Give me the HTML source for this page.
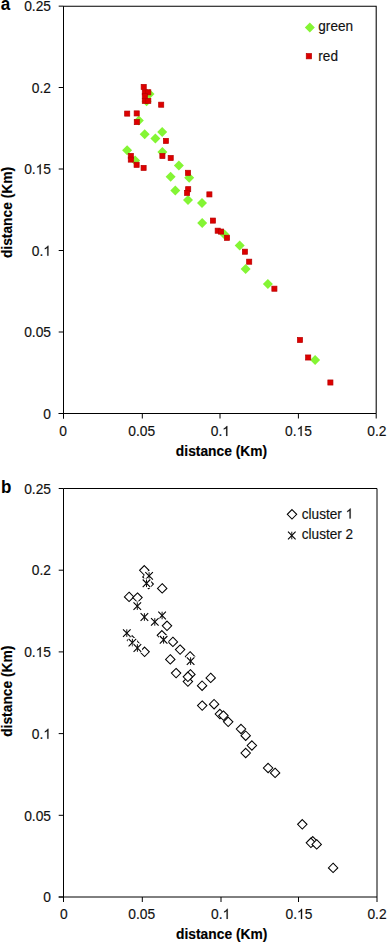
<!DOCTYPE html>
<html><head><meta charset="utf-8"><style>
html,body{margin:0;padding:0;background:#fff;}
svg{display:block;}
.t{font-family:"Liberation Sans", sans-serif;font-size:13.8px;fill:#111;stroke:#111;stroke-width:0.15px;}
.lg{font-family:"Liberation Sans", sans-serif;font-size:13.6px;fill:#111;stroke:#111;stroke-width:0.15px;}
.ax{font-family:"Liberation Sans", sans-serif;font-size:13.8px;font-weight:bold;fill:#000;stroke:#000;stroke-width:0.15px;}
.p{font-family:"Liberation Sans", sans-serif;font-size:17px;font-weight:bold;fill:#000;}
</style></head><body>
<svg width="388" height="943" viewBox="0 0 388 943">
<rect width="388" height="943" fill="#fff"/>
<path d="M63.5 6.15H376.2 V413.5" fill="none" stroke="#000" stroke-width="1.05"/>
<path d="M63.5 6.15V418.5" stroke="#000" stroke-width="1"/>
<path d="M58.7 413.5H376.2" stroke="#000" stroke-width="1"/>
<path d="M58.7 6.15H63.5" stroke="#000" stroke-width="1"/>
<path d="M58.7 87.5H63.5" stroke="#000" stroke-width="1"/>
<path d="M58.7 169H63.5" stroke="#000" stroke-width="1"/>
<path d="M58.7 250.5H63.5" stroke="#000" stroke-width="1"/>
<path d="M58.7 332H63.5" stroke="#000" stroke-width="1"/>
<path d="M58.7 413.5H63.5" stroke="#000" stroke-width="1"/>
<path d="M63.5 413.5V418.5" stroke="#000" stroke-width="1"/>
<path d="M142.3 413.5V418.5" stroke="#000" stroke-width="1"/>
<path d="M220 413.5V418.5" stroke="#000" stroke-width="1"/>
<path d="M298.4 413.5V418.5" stroke="#000" stroke-width="1"/>
<path d="M376.2 413.5V418.5" stroke="#000" stroke-width="1"/>
<text transform="translate(51 11.35) scale(1 1.06)" text-anchor="end" class="t">0.25</text>
<text transform="translate(51 92.7) scale(1 1.06)" text-anchor="end" class="t">0.2</text>
<g transform="translate(51 174.2) scale(1 1.06)"><text text-anchor="end" class="t">0. 5</text><path transform="translate(-15.35 0) scale(0.006738 -0.006738)" d="M763 0L583 0L583 1102Q518 1043 412 983Q307 924 223 894L223 1061Q375 1129 489 1226Q603 1323 650 1409L763 1409Z" fill="#111" stroke="#111" stroke-width="22.26"/></g>
<g transform="translate(51 255.7) scale(1 1.06)"><text text-anchor="end" class="t">0. </text><path transform="translate(-7.67 0) scale(0.006738 -0.006738)" d="M763 0L583 0L583 1102Q518 1043 412 983Q307 924 223 894L223 1061Q375 1129 489 1226Q603 1323 650 1409L763 1409Z" fill="#111" stroke="#111" stroke-width="22.26"/></g>
<text transform="translate(51 337.2) scale(1 1.06)" text-anchor="end" class="t">0.05</text>
<text transform="translate(51 418.7) scale(1 1.06)" text-anchor="end" class="t">0</text>
<text transform="translate(63.2 436) scale(1 1.06)" text-anchor="middle" class="t">0</text>
<text transform="translate(141.8 436) scale(1 1.06)" text-anchor="middle" class="t">0.05</text>
<g transform="translate(220.3 436) scale(1 1.06)"><text text-anchor="middle" class="t">0. </text><path transform="translate(1.92 0) scale(0.006738 -0.006738)" d="M763 0L583 0L583 1102Q518 1043 412 983Q307 924 223 894L223 1061Q375 1129 489 1226Q603 1323 650 1409L763 1409Z" fill="#111" stroke="#111" stroke-width="22.26"/></g>
<g transform="translate(298.5 436) scale(1 1.06)"><text text-anchor="middle" class="t">0. 5</text><path transform="translate(-1.92 0) scale(0.006738 -0.006738)" d="M763 0L583 0L583 1102Q518 1043 412 983Q307 924 223 894L223 1061Q375 1129 489 1226Q603 1323 650 1409L763 1409Z" fill="#111" stroke="#111" stroke-width="22.26"/></g>
<text transform="translate(376.9 436) scale(1 1.06)" text-anchor="middle" class="t">0.2</text>
<text transform="translate(0.7 10.1) scale(1 1.03)" class="p">a</text>
<text transform="translate(221.5 455.9) scale(1 1.06)" text-anchor="middle" class="ax">distance (Km)</text>
<text transform="translate(12.2 212.5) rotate(-90)" text-anchor="middle" class="ax">distance (Km)</text>
<path d="M149.5 88.9L154.5 93.9L149.5 98.9L144.5 93.9Z" fill="#84f534"/>
<path d="M146.6 96.2L151.6 101.2L146.6 106.2L141.6 101.2Z" fill="#84f534"/>
<path d="M138.8 115.4L143.8 120.4L138.8 125.4L133.8 120.4Z" fill="#84f534"/>
<path d="M144.7 129.3L149.7 134.3L144.7 139.3L139.7 134.3Z" fill="#84f534"/>
<path d="M155.4 133.5L160.4 138.5L155.4 143.5L150.4 138.5Z" fill="#84f534"/>
<path d="M162.2 126.9L167.2 131.9L162.2 136.9L157.2 131.9Z" fill="#84f534"/>
<path d="M127.1 145.2L132.1 150.2L127.1 155.2L122.1 150.2Z" fill="#84f534"/>
<path d="M135.1 155.5L140.1 160.5L135.1 165.5L130.1 160.5Z" fill="#84f534"/>
<path d="M162.4 146.9L167.4 151.9L162.4 156.9L157.4 151.9Z" fill="#84f534"/>
<path d="M178.9 160.5L183.9 165.5L178.9 170.5L173.9 165.5Z" fill="#84f534"/>
<path d="M170.6 171.7L175.6 176.7L170.6 181.7L165.6 176.7Z" fill="#84f534"/>
<path d="M189.2 172.7L194.2 177.7L189.2 182.7L184.2 177.7Z" fill="#84f534"/>
<path d="M175.3 185.4L180.3 190.4L175.3 195.4L170.3 190.4Z" fill="#84f534"/>
<path d="M188 195L193 200L188 205L183 200Z" fill="#84f534"/>
<path d="M202 197.9L207 202.9L202 207.9L197 202.9Z" fill="#84f534"/>
<path d="M202.2 217.9L207.2 222.9L202.2 227.9L197.2 222.9Z" fill="#84f534"/>
<path d="M224.5 229.4L229.5 234.4L224.5 239.4L219.5 234.4Z" fill="#84f534"/>
<path d="M239.7 240.4L244.7 245.4L239.7 250.4L234.7 245.4Z" fill="#84f534"/>
<path d="M245.6 264L250.6 269L245.6 274L240.6 269Z" fill="#84f534"/>
<path d="M267.9 279.1L272.9 284.1L267.9 289.1L262.9 284.1Z" fill="#84f534"/>
<path d="M315.1 354.9L320.1 359.9L315.1 364.9L310.1 359.9Z" fill="#84f534"/>
<rect x="141.15" y="84.35" width="5.1" height="5.1" fill="#dd0000" stroke="#b80000" stroke-width="0.7"/>
<rect x="142.25" y="89.75" width="5.1" height="5.1" fill="#dd0000" stroke="#b80000" stroke-width="0.7"/>
<rect x="145.75" y="89.75" width="5.1" height="5.1" fill="#dd0000" stroke="#b80000" stroke-width="0.7"/>
<rect x="142.25" y="93.45" width="5.1" height="5.1" fill="#dd0000" stroke="#b80000" stroke-width="0.7"/>
<rect x="142.25" y="98.35" width="5.1" height="5.1" fill="#dd0000" stroke="#b80000" stroke-width="0.7"/>
<rect x="145.75" y="98.35" width="5.1" height="5.1" fill="#dd0000" stroke="#b80000" stroke-width="0.7"/>
<rect x="158.65" y="102.15" width="5.1" height="5.1" fill="#dd0000" stroke="#b80000" stroke-width="0.7"/>
<rect x="124.65" y="111.05" width="5.1" height="5.1" fill="#dd0000" stroke="#b80000" stroke-width="0.7"/>
<rect x="134.15" y="110.85" width="5.1" height="5.1" fill="#dd0000" stroke="#b80000" stroke-width="0.7"/>
<rect x="134.25" y="119.55" width="5.1" height="5.1" fill="#dd0000" stroke="#b80000" stroke-width="0.7"/>
<rect x="163.35" y="138.35" width="5.1" height="5.1" fill="#dd0000" stroke="#b80000" stroke-width="0.7"/>
<rect x="128.25" y="153.35" width="5.1" height="5.1" fill="#dd0000" stroke="#b80000" stroke-width="0.7"/>
<rect x="128.25" y="157.05" width="5.1" height="5.1" fill="#dd0000" stroke="#b80000" stroke-width="0.7"/>
<rect x="134.05" y="162.25" width="5.1" height="5.1" fill="#dd0000" stroke="#b80000" stroke-width="0.7"/>
<rect x="141.05" y="165.35" width="5.1" height="5.1" fill="#dd0000" stroke="#b80000" stroke-width="0.7"/>
<rect x="159.85" y="153.45" width="5.1" height="5.1" fill="#dd0000" stroke="#b80000" stroke-width="0.7"/>
<rect x="168.15" y="155.45" width="5.1" height="5.1" fill="#dd0000" stroke="#b80000" stroke-width="0.7"/>
<rect x="185.45" y="170.25" width="5.1" height="5.1" fill="#dd0000" stroke="#b80000" stroke-width="0.7"/>
<rect x="185.65" y="186.65" width="5.1" height="5.1" fill="#dd0000" stroke="#b80000" stroke-width="0.7"/>
<rect x="184.55" y="190.35" width="5.1" height="5.1" fill="#dd0000" stroke="#b80000" stroke-width="0.7"/>
<rect x="206.85" y="191.85" width="5.1" height="5.1" fill="#dd0000" stroke="#b80000" stroke-width="0.7"/>
<rect x="210.35" y="218.05" width="5.1" height="5.1" fill="#dd0000" stroke="#b80000" stroke-width="0.7"/>
<rect x="215.15" y="228.15" width="5.1" height="5.1" fill="#dd0000" stroke="#b80000" stroke-width="0.7"/>
<rect x="218.55" y="229.05" width="5.1" height="5.1" fill="#dd0000" stroke="#b80000" stroke-width="0.7"/>
<rect x="224.45" y="235.25" width="5.1" height="5.1" fill="#dd0000" stroke="#b80000" stroke-width="0.7"/>
<rect x="242.35" y="249.15" width="5.1" height="5.1" fill="#dd0000" stroke="#b80000" stroke-width="0.7"/>
<rect x="246.65" y="259.15" width="5.1" height="5.1" fill="#dd0000" stroke="#b80000" stroke-width="0.7"/>
<rect x="271.85" y="286.15" width="5.1" height="5.1" fill="#dd0000" stroke="#b80000" stroke-width="0.7"/>
<rect x="297.45" y="337.45" width="5.1" height="5.1" fill="#dd0000" stroke="#b80000" stroke-width="0.7"/>
<rect x="305.65" y="354.95" width="5.1" height="5.1" fill="#dd0000" stroke="#b80000" stroke-width="0.7"/>
<rect x="327.85" y="379.95" width="5.1" height="5.1" fill="#dd0000" stroke="#b80000" stroke-width="0.7"/>
<path d="M309.8 22.4L314.8 27.4L309.8 32.4L304.8 27.4Z" fill="#84f534"/>
<text transform="translate(318.3 31) scale(1 1.06)" class="lg">green</text>
<rect x="306.25" y="53.55" width="5.3" height="5.3" fill="#dd0000" stroke="#b80000" stroke-width="0.7"/>
<text transform="translate(318.3 60.5) scale(1 1.06)" class="lg">red</text>
<path d="M63.5 488.5H377 V897" fill="none" stroke="#000" stroke-width="1"/>
<path d="M63.5 488.5V902" stroke="#000" stroke-width="1"/>
<path d="M58.7 897H377" stroke="#000" stroke-width="1"/>
<path d="M58.7 488.5H63.5" stroke="#000" stroke-width="1"/>
<path d="M58.7 570.2H63.5" stroke="#000" stroke-width="1"/>
<path d="M58.7 651.9H63.5" stroke="#000" stroke-width="1"/>
<path d="M58.7 733.6H63.5" stroke="#000" stroke-width="1"/>
<path d="M58.7 815.3H63.5" stroke="#000" stroke-width="1"/>
<path d="M58.7 897H63.5" stroke="#000" stroke-width="1"/>
<path d="M63.5 897V902" stroke="#000" stroke-width="1"/>
<path d="M142.3 897V902" stroke="#000" stroke-width="1"/>
<path d="M221 897V902" stroke="#000" stroke-width="1"/>
<path d="M298.5 897V902" stroke="#000" stroke-width="1"/>
<path d="M377 897V902" stroke="#000" stroke-width="1"/>
<text transform="translate(51 493.7) scale(1 1.06)" text-anchor="end" class="t">0.25</text>
<text transform="translate(51 575.4) scale(1 1.06)" text-anchor="end" class="t">0.2</text>
<g transform="translate(51 657.1) scale(1 1.06)"><text text-anchor="end" class="t">0. 5</text><path transform="translate(-15.35 0) scale(0.006738 -0.006738)" d="M763 0L583 0L583 1102Q518 1043 412 983Q307 924 223 894L223 1061Q375 1129 489 1226Q603 1323 650 1409L763 1409Z" fill="#111" stroke="#111" stroke-width="22.26"/></g>
<g transform="translate(51 738.8) scale(1 1.06)"><text text-anchor="end" class="t">0. </text><path transform="translate(-7.67 0) scale(0.006738 -0.006738)" d="M763 0L583 0L583 1102Q518 1043 412 983Q307 924 223 894L223 1061Q375 1129 489 1226Q603 1323 650 1409L763 1409Z" fill="#111" stroke="#111" stroke-width="22.26"/></g>
<text transform="translate(51 820.5) scale(1 1.06)" text-anchor="end" class="t">0.05</text>
<text transform="translate(51 902.2) scale(1 1.06)" text-anchor="end" class="t">0</text>
<text transform="translate(63.9 918.9) scale(1 1.06)" text-anchor="middle" class="t">0</text>
<text transform="translate(141.8 918.9) scale(1 1.06)" text-anchor="middle" class="t">0.05</text>
<g transform="translate(220.7 918.9) scale(1 1.06)"><text text-anchor="middle" class="t">0. </text><path transform="translate(1.92 0) scale(0.006738 -0.006738)" d="M763 0L583 0L583 1102Q518 1043 412 983Q307 924 223 894L223 1061Q375 1129 489 1226Q603 1323 650 1409L763 1409Z" fill="#111" stroke="#111" stroke-width="22.26"/></g>
<g transform="translate(298.9 918.9) scale(1 1.06)"><text text-anchor="middle" class="t">0. 5</text><path transform="translate(-1.92 0) scale(0.006738 -0.006738)" d="M763 0L583 0L583 1102Q518 1043 412 983Q307 924 223 894L223 1061Q375 1129 489 1226Q603 1323 650 1409L763 1409Z" fill="#111" stroke="#111" stroke-width="22.26"/></g>
<text transform="translate(377 918.9) scale(1 1.06)" text-anchor="middle" class="t">0.2</text>
<text transform="translate(1 493.4) scale(1 1.04)" class="p">b</text>
<text transform="translate(221.7 938.8) scale(1 1.06)" text-anchor="middle" class="ax">distance (Km)</text>
<text transform="translate(12.2 691.2) rotate(-90)" text-anchor="middle" class="ax">distance (Km)</text>
<path d="M144.3 565.6L149 570.3L144.3 575L139.6 570.3Z" fill="#fff" stroke="#000" stroke-width="1.05"/>
<path d="M147.4 572.2L152.1 576.9L147.4 581.6L142.7 576.9Z" fill="#fff" stroke="#000" stroke-width="1.05"/>
<path d="M148.7 579.4L153.4 584.1L148.7 588.8L144 584.1Z" fill="#fff" stroke="#000" stroke-width="1.05"/>
<path d="M162.2 583.7L166.9 588.4L162.2 593.1L157.5 588.4Z" fill="#fff" stroke="#000" stroke-width="1.05"/>
<path d="M129.1 592.2L133.8 596.9L129.1 601.6L124.4 596.9Z" fill="#fff" stroke="#000" stroke-width="1.05"/>
<path d="M137.5 592.9L142.2 597.6L137.5 602.3L132.8 597.6Z" fill="#fff" stroke="#000" stroke-width="1.05"/>
<path d="M167 621.1L171.7 625.8L167 630.5L162.3 625.8Z" fill="#fff" stroke="#000" stroke-width="1.05"/>
<path d="M161.9 630.6L166.6 635.3L161.9 640L157.2 635.3Z" fill="#fff" stroke="#000" stroke-width="1.05"/>
<path d="M132 635.6L136.7 640.3L132 645L127.3 640.3Z" fill="#fff" stroke="#000" stroke-width="1.05"/>
<path d="M135.7 639.7L140.4 644.4L135.7 649.1L131 644.4Z" fill="#fff" stroke="#000" stroke-width="1.05"/>
<path d="M172.9 637.2L177.6 641.9L172.9 646.6L168.2 641.9Z" fill="#fff" stroke="#000" stroke-width="1.05"/>
<path d="M180.1 644.9L184.8 649.6L180.1 654.3L175.4 649.6Z" fill="#fff" stroke="#000" stroke-width="1.05"/>
<path d="M170.3 654.7L175 659.4L170.3 664.1L165.6 659.4Z" fill="#fff" stroke="#000" stroke-width="1.05"/>
<path d="M190.1 651.7L194.8 656.4L190.1 661.1L185.4 656.4Z" fill="#fff" stroke="#000" stroke-width="1.05"/>
<path d="M144.6 647.1L149.3 651.8L144.6 656.5L139.9 651.8Z" fill="#fff" stroke="#000" stroke-width="1.05"/>
<path d="M176.1 668.4L180.8 673.1L176.1 677.8L171.4 673.1Z" fill="#fff" stroke="#000" stroke-width="1.05"/>
<path d="M190.4 669.7L195.1 674.4L190.4 679.1L185.7 674.4Z" fill="#fff" stroke="#000" stroke-width="1.05"/>
<path d="M187.9 676.9L192.6 681.6L187.9 686.3L183.2 681.6Z" fill="#fff" stroke="#000" stroke-width="1.05"/>
<path d="M187.9 672.1L192.6 676.8L187.9 681.5L183.2 676.8Z" fill="#fff" stroke="#000" stroke-width="1.05"/>
<path d="M202.1 681L206.8 685.7L202.1 690.4L197.4 685.7Z" fill="#fff" stroke="#000" stroke-width="1.05"/>
<path d="M210.7 673.2L215.4 677.9L210.7 682.6L206 677.9Z" fill="#fff" stroke="#000" stroke-width="1.05"/>
<path d="M202.2 700.9L206.9 705.6L202.2 710.3L197.5 705.6Z" fill="#fff" stroke="#000" stroke-width="1.05"/>
<path d="M214.1 699.5L218.8 704.2L214.1 708.9L209.4 704.2Z" fill="#fff" stroke="#000" stroke-width="1.05"/>
<path d="M219.9 709.3L224.6 714L219.9 718.7L215.2 714Z" fill="#fff" stroke="#000" stroke-width="1.05"/>
<path d="M223.4 710.9L228.1 715.6L223.4 720.3L218.7 715.6Z" fill="#fff" stroke="#000" stroke-width="1.05"/>
<path d="M228.2 717.1L232.9 721.8L228.2 726.5L223.5 721.8Z" fill="#fff" stroke="#000" stroke-width="1.05"/>
<path d="M241 724.3L245.7 729L241 733.7L236.3 729Z" fill="#fff" stroke="#000" stroke-width="1.05"/>
<path d="M245.7 731L250.4 735.7L245.7 740.4L241 735.7Z" fill="#fff" stroke="#000" stroke-width="1.05"/>
<path d="M251.9 740.8L256.6 745.5L251.9 750.2L247.2 745.5Z" fill="#fff" stroke="#000" stroke-width="1.05"/>
<path d="M245.7 748.3L250.4 753L245.7 757.7L241 753Z" fill="#fff" stroke="#000" stroke-width="1.05"/>
<path d="M268.1 763.3L272.8 768L268.1 772.7L263.4 768Z" fill="#fff" stroke="#000" stroke-width="1.05"/>
<path d="M275.1 768.2L279.8 772.9L275.1 777.6L270.4 772.9Z" fill="#fff" stroke="#000" stroke-width="1.05"/>
<path d="M302.3 819.6L307 824.3L302.3 829L297.6 824.3Z" fill="#fff" stroke="#000" stroke-width="1.05"/>
<path d="M312.8 836.6L317.5 841.3L312.8 846L308.1 841.3Z" fill="#fff" stroke="#000" stroke-width="1.05"/>
<path d="M310.9 838.1L315.6 842.8L310.9 847.5L306.2 842.8Z" fill="#fff" stroke="#000" stroke-width="1.05"/>
<path d="M316.7 839.7L321.4 844.4L316.7 849.1L312 844.4Z" fill="#fff" stroke="#000" stroke-width="1.05"/>
<path d="M333.1 863.2L337.8 867.9L333.1 872.6L328.4 867.9Z" fill="#fff" stroke="#000" stroke-width="1.05"/>
<rect x="144.4" y="571.2" width="9.4" height="9.4" fill="#fff"/><path d="M145.3 572.1L152.9 579.7M152.9 572.1L145.3 579.7" stroke="#000" stroke-width="1.1" fill="none"/><path d="M149.1 572.1L149.1 579.7" stroke="#111" stroke-width="1"/>
<rect x="141.8" y="578.6" width="9.4" height="9.4" fill="#fff"/><path d="M142.7 579.5L150.3 587.1M150.3 579.5L142.7 587.1" stroke="#000" stroke-width="1.1" fill="none"/><path d="M146.5 579.5L146.5 587.1" stroke="#111" stroke-width="1"/>
<rect x="132.6" y="601.4" width="9.4" height="9.4" fill="#fff"/><path d="M133.5 602.3L141.1 609.9M141.1 602.3L133.5 609.9" stroke="#000" stroke-width="1.1" fill="none"/><path d="M137.3 602.3L137.3 609.9" stroke="#111" stroke-width="1"/>
<rect x="139.7" y="612.3" width="9.4" height="9.4" fill="#fff"/><path d="M140.6 613.2L148.2 620.8M148.2 613.2L140.6 620.8" stroke="#000" stroke-width="1.1" fill="none"/><path d="M144.4 613.2L144.4 620.8" stroke="#111" stroke-width="1"/>
<rect x="157.4" y="610.8" width="9.4" height="9.4" fill="#fff"/><path d="M158.3 611.7L165.9 619.3M165.9 611.7L158.3 619.3" stroke="#000" stroke-width="1.1" fill="none"/><path d="M162.1 611.7L162.1 619.3" stroke="#111" stroke-width="1"/>
<rect x="150.1" y="617.2" width="9.4" height="9.4" fill="#fff"/><path d="M151 618.1L158.6 625.7M158.6 618.1L151 625.7" stroke="#000" stroke-width="1.1" fill="none"/><path d="M154.8 618.1L154.8 625.7" stroke="#111" stroke-width="1"/>
<rect x="158.9" y="635.1" width="9.4" height="9.4" fill="#fff"/><path d="M159.8 636L167.4 643.6M167.4 636L159.8 643.6" stroke="#000" stroke-width="1.1" fill="none"/><path d="M163.6 636L163.6 643.6" stroke="#111" stroke-width="1"/>
<rect x="122.1" y="628.4" width="9.4" height="9.4" fill="#fff"/><path d="M123 629.3L130.6 636.9M130.6 629.3L123 636.9" stroke="#000" stroke-width="1.1" fill="none"/><path d="M126.8 629.3L126.8 636.9" stroke="#111" stroke-width="1"/>
<rect x="127.7" y="637.9" width="9.4" height="9.4" fill="#fff"/><path d="M128.6 638.8L136.2 646.4M136.2 638.8L128.6 646.4" stroke="#000" stroke-width="1.1" fill="none"/><path d="M132.4 638.8L132.4 646.4" stroke="#111" stroke-width="1"/>
<rect x="132.7" y="643.3" width="9.4" height="9.4" fill="#fff"/><path d="M133.6 644.2L141.2 651.8M141.2 644.2L133.6 651.8" stroke="#000" stroke-width="1.1" fill="none"/><path d="M137.4 644.2L137.4 651.8" stroke="#111" stroke-width="1"/>
<rect x="185.9" y="656.4" width="9.4" height="9.4" fill="#fff"/><path d="M186.8 657.3L194.4 664.9M194.4 657.3L186.8 664.9" stroke="#000" stroke-width="1.1" fill="none"/><path d="M190.6 657.3L190.6 664.9" stroke="#111" stroke-width="1"/>
<path d="M292 509.6L296.7 514.3L292 519L287.3 514.3Z" fill="#fff" stroke="#000" stroke-width="1.05"/>
<g transform="translate(301.8 518.5) scale(1 1.06)"><text class="lg">cluster  </text><path transform="translate(43.83 0) scale(0.006641 -0.006641)" d="M763 0L583 0L583 1102Q518 1043 412 983Q307 924 223 894L223 1061Q375 1129 489 1226Q603 1323 650 1409L763 1409Z" fill="#111" stroke="#111" stroke-width="22.59"/></g>
<rect x="287.1" y="530.8" width="9.4" height="9.4" fill="#fff"/><path d="M288 531.7L295.6 539.3M295.6 531.7L288 539.3" stroke="#000" stroke-width="1.1" fill="none"/><path d="M291.8 531.7L291.8 539.3" stroke="#111" stroke-width="1"/>
<text transform="translate(301.8 538.7) scale(1 1.06)" class="lg">cluster 2</text>
</svg>
</body></html>
